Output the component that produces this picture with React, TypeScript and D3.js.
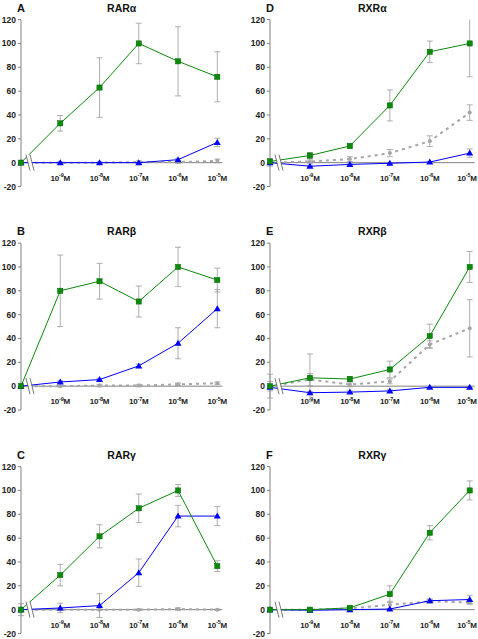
import React from "react";
import * as d3 from "d3";

const xExponents: (number | null)[] = [null, -9, -8, -7, -6, -5];
const yTicks = [-20, 0, 20, 40, 60, 80, 100, 120];

const panelLetters = ["A", "B", "C", "D", "E", "F"];
const panelTitles = ["RARα", "RARβ", "RARγ", "RXRα", "RXRβ", "RXRγ"];

// RARα
const aGreen = [0, 33, 63, 100, 85, 72];
const aGreenErr = [0, 6.5, 25, 17, 29, 21];
const aBlue = [0, 0, 0, 0, 2.5, 17];
const aBlueErr = [0, 0.5, 0.5, 0.5, 1, 3.5];
const aGray = [0, 0, 0, 0.5, 0.5, 1.5];
const aGrayErr = [0, 0.5, 0.5, 1, 1, 1.5];
// RARβ
const bGreen = [0, 80, 88, 71, 100, 89];
const bGreenErr = [0, 30, 15, 13, 16.5, 10];
const bBlue = [0, 3.5, 5.5, 17, 36, 65];
const bBlueErr = [0, 1, 1, 1.5, 13, 16];
const bGray = [0, 0, 0.5, 0.5, 1.5, 2.5];
const bGrayErr = [0, 0.5, 1, 1, 1, 1];
// RARγ
const cGreen = [0, 29, 61.5, 85, 100, 36.5];
const cGreenErr = [5, 9, 9.7, 12, 5, 4.5];
const cBlue = [0, 1.4, 3.4, 31, 78.5, 78.5];
const cBlueErr = [0, 4, 10, 11.5, 9, 8];
const cGray = [0, 0, 0, 0, 0.5, 0];
const cGrayErr = [0, 0.5, 0.5, 0.5, 1, 0.5];
// RXRα
const dGreen = [1, 6, 14, 48, 93, 100];
const dGreenErr = [2.5, 2.5, 2, 13, 9, 28];
const dBlue = [0, -3, -1.5, -0.5, 0.5, 8];
const dBlueErr = [0, 0.5, 0.5, 0.5, 0.5, 3.5];
const dGray = [0, 1, 3, 8, 18, 42];
const dGrayErr = [3, 2, 2, 3, 4.5, 6.5];
// RXRβ
const eGreen = [0, 7, 6, 14, 42, 100];
const eGreenErr = [10, 20, 2, 7, 10, 13];
const eBlue = [-1, -5.5, -5, -4, -1, -1];
const eBlueErr = [0, 1, 1, 1, 0.5, 0.5];
const eGray = [0, 5.5, 1.4, 4, 35, 48.5];
const eGrayErr = [4, 5, 2, 2, 3, 24];
// RXRγ
const fGreen = [0, 0, 1.5, 13, 64.5, 100];
const fGreenErr = [0, 0.5, 1, 7, 6, 8];
const fBlue = [0, -0.5, 0, 0.5, 7.5, 8.5];
const fBlueErr = [0, 0.5, 0.5, 0.5, 1.5, 3.5];
const fGray = [0, 0, 1, 4, 7, 6];
const fGrayErr = [0, 0.5, 1, 3, 1.5, 1.5];

type Series = { vals: number[]; err: number[] };
const panelSeries: { green: Series; blue: Series; gray: Series }[] = [
  { green: { vals: aGreen, err: aGreenErr }, blue: { vals: aBlue, err: aBlueErr }, gray: { vals: aGray, err: aGrayErr } },
  { green: { vals: bGreen, err: bGreenErr }, blue: { vals: bBlue, err: bBlueErr }, gray: { vals: bGray, err: bGrayErr } },
  { green: { vals: cGreen, err: cGreenErr }, blue: { vals: cBlue, err: cBlueErr }, gray: { vals: cGray, err: cGrayErr } },
  { green: { vals: dGreen, err: dGreenErr }, blue: { vals: dBlue, err: dBlueErr }, gray: { vals: dGray, err: dGrayErr } },
  { green: { vals: eGreen, err: eGreenErr }, blue: { vals: eBlue, err: eBlueErr }, gray: { vals: eGray, err: eGrayErr } },
  { green: { vals: fGreen, err: fGreenErr }, blue: { vals: fBlue, err: fBlueErr }, gray: { vals: fGray, err: fGrayErr } },
];

const GREEN = "#0b8a0b";
const BLUE = "#0000ff";
const GRAY = "#a6a6a6";
const AXIS = "#808080";
const ERR = "#9a9a9a";
const FONT = "Arial, 'Liberation Sans', sans-serif";

function Panel({ idx }: { idx: number }) {
  const col = idx < 3 ? 0 : 1;
  const row = idx % 3;
  const axisX = col === 0 ? 21 : 270;
  const lastX = col === 0 ? 217.3 : 469.7;
  const top = 19.6 + row * 223.5;
  const y = d3.scaleLinear().domain([-20, 120]).range([top + 166.9, top]);
  const x = d3.scaleLinear().domain([0, xExponents.length - 1]).range([axisX, lastX]);
  const s = panelSeries[idx];
  const y0 = y(0);
  const clamp = (v: number) => Math.max(-20, Math.min(120, v));
  const line = d3
    .line<number>()
    .x((_, i) => x(i))
    .y((v) => y(v));

  const errBars = (ser: Series, key: string) =>
    ser.vals.map((v, i) =>
      ser.err[i] > 0 ? (
        <g key={key + i} stroke={ERR} strokeWidth={0.8}>
          <line x1={x(i)} x2={x(i)} y1={y(clamp(v + ser.err[i]))} y2={y(clamp(v - ser.err[i]))} />
          {v + ser.err[i] <= 120 && (
            <line x1={x(i) - 3} x2={x(i) + 3} y1={y(v + ser.err[i])} y2={y(v + ser.err[i])} />
          )}
          <line x1={x(i) - 3} x2={x(i) + 3} y1={y(clamp(v - ser.err[i]))} y2={y(clamp(v - ser.err[i]))} />
        </g>
      ) : null
    );

  const bx = axisX + 9;
  const centerX = (axisX + lastX + 5) / 2;

  return (
    <g>
      {/* panel letter and title */}
      <text x={axisX - 4} y={top - 8} fontSize={11} fontWeight="bold" fontFamily={FONT} fill="#111">
        {panelLetters[idx]}
      </text>
      <text x={centerX} y={top - 8} fontSize={10.5} fontWeight="bold" fontFamily={FONT} fill="#111" textAnchor="middle">
        {panelTitles[idx]}
      </text>
      {/* y axis */}
      <line x1={axisX} x2={axisX} y1={y(120)} y2={y(-20)} stroke={AXIS} strokeWidth={1} />
      {yTicks.map((t) => (
        <g key={t}>
          <line x1={axisX - 3} x2={axisX} y1={y(t)} y2={y(t)} stroke={AXIS} strokeWidth={1} />
          <text x={axisX - 5} y={y(t) + 3} fontSize={8.5} fontWeight="bold" fontFamily={FONT} fill="#222" textAnchor="end">
            {t}
          </text>
        </g>
      ))}
      {/* x axis */}
      <line x1={axisX} x2={lastX + 5} y1={y0} y2={y0} stroke={AXIS} strokeWidth={1} />
      {xExponents.map((e, i) =>
        e === null ? null : (
          <text
            key={i}
            x={Math.min(x(i), 467)}
            y={y0 + 18}
            fontSize={8}
            fontWeight="bold"
            fontFamily={FONT}
            fill="#222"
            textAnchor="middle"
            letterSpacing={-0.2}
          >
            10
            <tspan fontSize={5.5} dy={-3.5}>{e}</tspan>
            <tspan dy={3.5}>M</tspan>
          </text>
        )
      )}
      {/* error bars */}
      {errBars(s.gray, "gr")}
      {errBars(s.blue, "bl")}
      {errBars(s.green, "gn")}
      {/* gray dashed series */}
      <path d={line(s.gray.vals) || ""} fill="none" stroke={GRAY} strokeWidth={2} strokeDasharray="3,4" />
      {s.gray.vals.map((v, i) => (
        <circle key={"gm" + i} cx={x(i)} cy={y(v)} r={2} fill={GRAY} />
      ))}
      {/* blue series */}
      <path d={line(s.blue.vals) || ""} fill="none" stroke={BLUE} strokeWidth={1} />
      {s.blue.vals.map((v, i) => (
        <path
          key={"bm" + i}
          d={`M${x(i)},${y(v) - 3.5}L${x(i) + 3.5},${y(v) + 2.5}L${x(i) - 3.5},${y(v) + 2.5}Z`}
          fill={BLUE}
        />
      ))}
      {/* green series */}
      <path d={line(s.green.vals) || ""} fill="none" stroke={GREEN} strokeWidth={1} />
      {s.green.vals.map((v, i) => (
        <rect key={"sm" + i} x={x(i) - 2.6} y={y(v) - 2.6} width={5.2} height={5.2} fill={GREEN} stroke="#006400" strokeWidth={0.5} />
      ))}
      {/* axis break */}
      <path
        d={`M${bx - 4},${y0 - 8}L${bx - 0},${y0 + 8}L${bx + 4},${y0 + 8}L${bx},${y0 - 8}Z`}
        fill="#fff"
        stroke="none"
      />
      <line x1={bx - 4} y1={y0 - 8} x2={bx} y2={y0 + 8} stroke="#555" strokeWidth={0.8} />
      <line x1={bx} y1={y0 - 8} x2={bx + 4} y2={y0 + 8} stroke="#555" strokeWidth={0.8} />
    </g>
  );
}

export default function App() {
  return (
    <svg width={478} height={639} style={{ position: "absolute", left: 0, top: 0, background: "#fff" }}>
      <rect width={478} height={639} fill="#fff" />
      {panelLetters.map((_, i) => (
        <Panel key={i} idx={i} />
      ))}
    </svg>
  );
}
